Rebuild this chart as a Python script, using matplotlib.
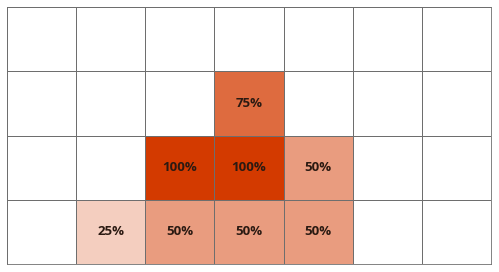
import numpy as np
import matplotlib.pyplot as plt
from matplotlib.colors import LinearSegmentedColormap

# percent coverage per cell, top row first
row_0 = [0, 0, 0, 0, 0, 0, 0]
row_1 = [0, 0, 0, 75, 0, 0, 0]
row_2 = [0, 0, 100, 100, 50, 0, 0]
row_3 = [0, 25, 50, 50, 50, 0, 0]

grid = np.array([row_0, row_1, row_2, row_3])
nrows, ncols = grid.shape

cmap = LinearSegmentedColormap.from_list('wr', ['#ffffff', '#d33a00'])

fig = plt.figure(figsize=(4.99, 2.72), dpi=100)
ax = fig.add_axes([0.014, 0.029, 0.97, 0.945])
ax.pcolormesh(grid, cmap=cmap, vmin=0, vmax=100,
              edgecolors='#6e6e6e', linewidth=0.6)
ax.set_xlim(0, ncols)
ax.set_ylim(nrows, 0)

for r in range(nrows):
    for c in range(ncols):
        v = grid[r, c]
        if v > 0:
            ax.text(c + 0.5, r + 0.5, '%d%%' % v, ha='center', va='center',
                    fontsize=9.5, fontweight='bold', family='Open Sans',
                    color='#2b1a12')

ax.set_xticks([])
ax.set_yticks([])
for s in ax.spines.values():
    s.set_color('#6e6e6e')
    s.set_linewidth(0.6)

fig.savefig('out.png', dpi=100, facecolor='white')
